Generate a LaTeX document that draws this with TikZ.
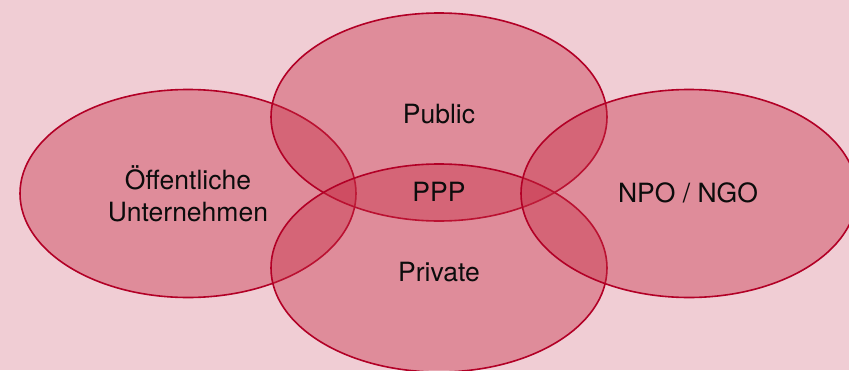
\documentclass[tikz,border=0pt]{standalone}
\usepackage{fontspec}
\setmainfont{TeX Gyre Heros}
\usetikzlibrary{shapes.geometric}

\definecolor{bgpink}{RGB}{240,205,212}
\definecolor{setfill}{RGB}{198,43,67}
\definecolor{setline}{RGB}{178,0,38}
\definecolor{labeltext}{RGB}{12,12,12}

\tikzset{
  setellipse/.style={ellipse, draw=setline, line width=1.6pt,
    fill=setfill, fill opacity=0.4, draw opacity=1,
    minimum width=336pt, minimum height=208pt, inner sep=0pt},
  setlabel/.style={text=labeltext, font=\fontsize{26.5}{32}\selectfont,
    align=center, inner sep=0pt, anchor=center}
}

\begin{document}
\begin{tikzpicture}[x=1pt,y=-1pt]
  % canvas
  \fill[bgpink] (0,0) rectangle (849,370);
  \useasboundingbox (0,0) rectangle (849,370);

  % the four overlapping sets
  \node[setellipse] (oeu)  at (188,193.5) {};
  \node[setellipse] (pub)  at (439,117)   {};
  \node[setellipse] (priv) at (439,268)   {};
  \node[setellipse] (ngo)  at (689,193.5) {};

  % set captions
  \node[setlabel] (oeutext)  at (188,194)   {Öffentliche\\Unternehmen};
  \node[setlabel] (pubtext)  at (439,114.5) {Public};
  \node[setlabel] (ppptext)  at (439,192)   {PPP};
  \node[setlabel] (privtext) at (439,272.5) {Private};
  \node[setlabel] (ngotext)  at (688,192.5) {NPO / NGO};
\end{tikzpicture}
\end{document}
